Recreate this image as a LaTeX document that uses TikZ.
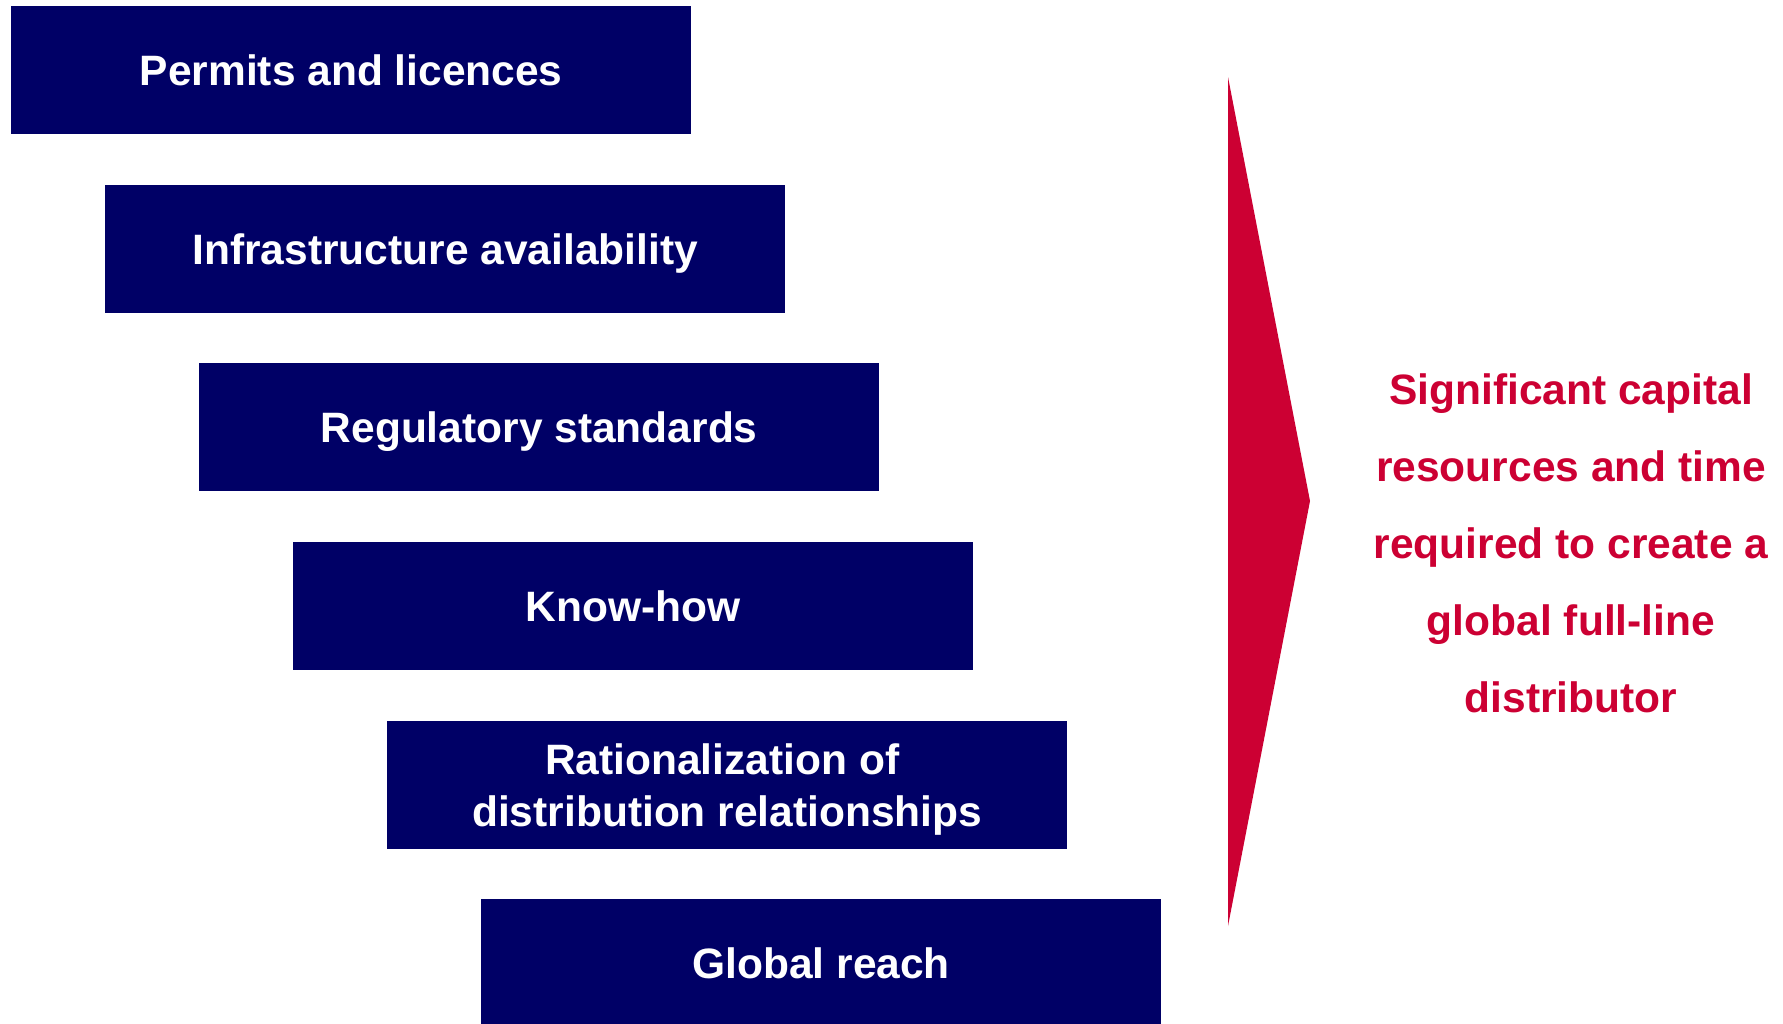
\documentclass[tikz,border=0pt]{standalone}
\usepackage{fontspec}
\setmainfont{Liberation Sans}
\definecolor{barrierblue}{RGB}{0,0,102}
\definecolor{outcomered}{RGB}{204,0,51}
\begin{document}
\begin{tikzpicture}
[x=1pt,y=-1pt,
  barrierbox/.style={shape=rectangle,anchor=north west,fill=barrierblue,
    text=white,minimum width=680pt,minimum height=127.5pt,inner sep=0pt,
    text depth=0pt,align=center,font=\bfseries\fontsize{42.5}{52}\selectfont},
  outcometext/.style={text=outcomered,align=center,
    font=\bfseries\fontsize{42.5}{77}\selectfont}]
\useasboundingbox (0,0) rectangle (1783,1023);
%% barrier boxes, stepping down to the right
\foreach \boxname/\x/\y/\boxtext in {permits/11/6/Permits and licences,
    infra/105/185/Infrastructure availability,
    regul/199/363/Regulatory standards,
    knowhow/293/542/Know-how,
    ration/387/721/{Rationalization of\kern10pt\\distribution relationships},
    reach/481/899/Global reach} {
  \node (\boxname) at (\x,\y) [barrierbox] {\boxtext};
}
%% wedge pointing at the outcome
\coordinate (wedgetop) at (1228,77);
\coordinate (wedgetip) at (1310,501);
\coordinate (wedgebottom) at (1228,926);
\fill[outcomered] (wedgetop) -- (wedgetip) -- (wedgebottom) -- cycle;
%% outcome text
\node (outcome) at (1571,543.5) [outcometext]
  {Significant capital\\resources and time\\required to create a\\global full-line\\distributor};
\end{tikzpicture}
\end{document}
